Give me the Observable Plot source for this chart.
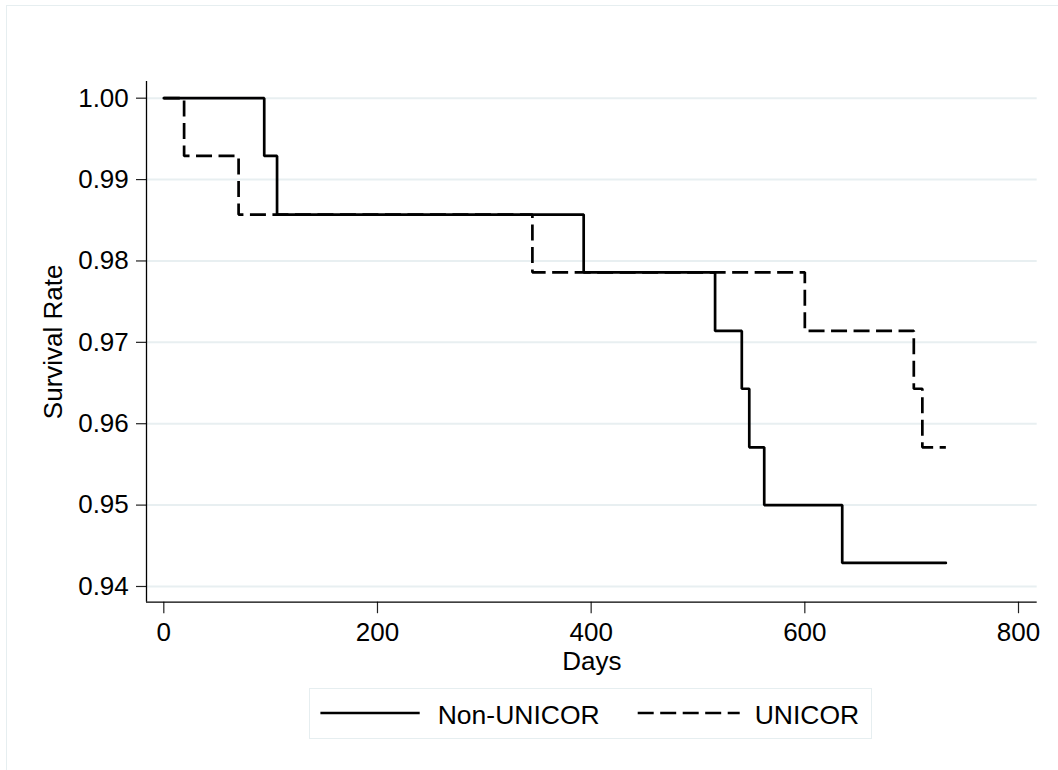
<!DOCTYPE html>
<html><head><meta charset="utf-8">
<script src="https://cdn.jsdelivr.net/npm/d3@7"></script>
<script src="https://cdn.jsdelivr.net/npm/@observablehq/plot@0.6"></script>
<style>
body{margin:0;background:#fff;}
#wrap{position:relative;width:1058px;height:770px;overflow:hidden;font-family:"Liberation Sans",Arial,sans-serif;background:#fff;}
#frame{position:absolute;left:6px;top:5px;width:1200px;height:900px;border:1.5px solid #e6eef0;}
#chart{position:absolute;left:0;top:0;}
#legend{position:absolute;left:309px;top:688px;width:563px;height:51px;border:1.5px solid #e6eef0;box-sizing:border-box;}
#legend svg{position:absolute;left:-1.5px;top:-1.5px;overflow:visible;}
</style>
</head><body>
<div id="wrap"><div id="frame"></div><div id="chart"></div><div id="legend"></div></div>
<script>
// Kaplan-Meier estimates
const seriesNames = ["Non-UNICOR", "UNICOR"];
const nonTime = [0, 94, 106, 393, 516, 541, 548, 562, 635, 732];
const nonSurv = [1.0, 0.9929, 0.9857, 0.9786, 0.9714, 0.9643, 0.9571, 0.95, 0.9429, 0.9429];
const uniTime = [0, 19, 70, 345, 600, 702, 710, 732];
const uniSurv = [1.0, 0.9929, 0.9857, 0.9786, 0.9714, 0.9643, 0.9571, 0.9571];
const xTicks = [0, 200, 400, 600, 800];
const yTicks = [0.94, 0.95, 0.96, 0.97, 0.98, 0.99, 1.00];
const xDomain = [-16.2, 817.5];
const yDomain = [0.93807, 1.00205];

const non = nonTime.map((t, i) => ({t, s: nonSurv[i]}));
const uni = uniTime.map((t, i) => ({t, s: uniSurv[i]}));

const font = "'Liberation Sans', Arial, sans-serif";
const chart = Plot.plot({
  width: 1058, height: 680,
  marginLeft: 146, marginRight: 21.3, marginTop: 81, marginBottom: 78.3,
  style: {fontFamily: font, fontSize: "26px", color: "#000", background: "transparent", overflow: "visible"},
  x: {domain: xDomain},
  y: {domain: yDomain},
  marks: [
    Plot.ruleY(yTicks, {stroke: "#e8eff1", strokeWidth: 2}),
    Plot.axisX({ticks: xTicks, tickSize: 11.5, tickPadding: 8.5, label: null, stroke: "#222", strokeWidth: 1.2, fill: "#000"}),
    Plot.axisY({ticks: yTicks, tickSize: 10, tickPadding: 7.7, tickFormat: d => d.toFixed(2), label: null, stroke: "#222", strokeWidth: 1.2, fill: "#000"}),
    Plot.ruleX([xDomain[0]], {stroke: "#000", strokeWidth: 1.3}),
    Plot.ruleY([yDomain[0]], {stroke: "#000", strokeWidth: 1.3}),
    Plot.line(uni, {x: "t", y: "s", curve: "step-after", stroke: "#000", strokeWidth: 2.7, strokeDasharray: "16,6.5", strokeLinecap: "butt", strokeLinejoin: "miter"}),
    Plot.line(non, {x: "t", y: "s", curve: "step-after", stroke: "#000", strokeWidth: 2.7, strokeLinejoin: "miter"}),
    Plot.text(["Days"], {frameAnchor: "bottom", dy: 68, lineAnchor: "bottom", textAnchor: "middle", fill: "#000"}),
    Plot.text(["Survival Rate"], {frameAnchor: "left", dx: -84.3, rotate: -90, lineAnchor: "bottom", textAnchor: "middle", fill: "#000"})
  ]
});
document.getElementById("chart").appendChild(chart);

// legend
const ns = "http://www.w3.org/2000/svg";
const lg = document.createElementNS(ns, "svg");
lg.setAttribute("width", 563); lg.setAttribute("height", 51);
const items = [
  {name: seriesNames[0], x1: 11.4, x2: 110.7, tx: 128.7, dash: null},
  {name: seriesNames[1], x1: 328.7, x2: 430.7, tx: 445.7, dash: "16,6.5"}
];
for (const it of items) {
  const l = document.createElementNS(ns, "line");
  l.setAttribute("x1", it.x1); l.setAttribute("x2", it.x2);
  l.setAttribute("y1", 25); l.setAttribute("y2", 25);
  l.setAttribute("stroke", "#000"); l.setAttribute("stroke-width", 2.7);
  if (it.dash) l.setAttribute("stroke-dasharray", it.dash);
  lg.appendChild(l);
  const t = document.createElementNS(ns, "text");
  t.setAttribute("x", it.tx); t.setAttribute("y", 36);
  t.setAttribute("font-family", font); t.setAttribute("font-size", "26.5px");
  t.setAttribute("fill", "#000");
  t.textContent = it.name;
  lg.appendChild(t);
}
document.getElementById("legend").appendChild(lg);
</script>
</body></html>
